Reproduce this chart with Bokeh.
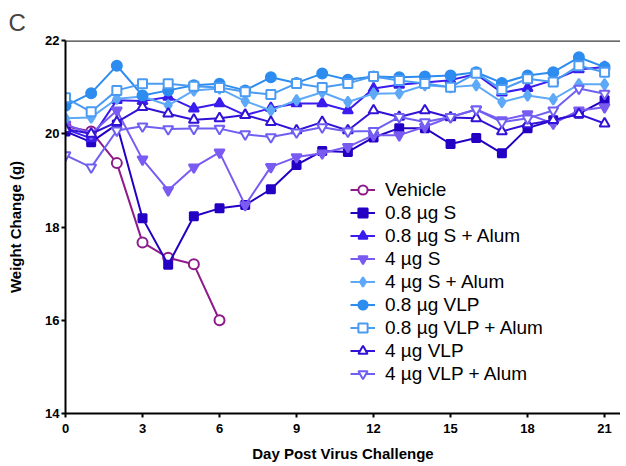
from bokeh.plotting import figure
from bokeh.models import Range1d, Span, FixedTicker, Legend
from bokeh.embed import file_html
from bokeh.resources import INLINE

days = list(range(22))
tick_x = [0, 3, 6, 9, 12, 15, 18, 21]
tick_y = [14, 16, 18, 20, 22]

vehicle = [20.16, 20.05, 19.37, 17.67, 17.34, 17.20, 16.00]
s08 = [20.05, 19.82, 20.20, 18.19, 17.19, 18.23, 18.40, 18.47, 18.81, 19.33, 19.63,
       19.61, 19.92, 20.12, 20.12, 19.78, 19.91, 19.58, 20.12, 20.29, 20.43, 20.72]
s08_alum = [20.10, 19.90, 20.72, 20.70, 20.79, 20.54, 20.65, 20.40, 20.55, 20.65, 20.65,
            20.50, 20.97, 21.05, 21.10, 21.15, 21.28, 20.88, 20.98, 21.15, 21.38, 21.43]
s4 = [20.20, 20.00, 20.50, 19.45, 18.79, 19.28, 19.60, 18.47, 19.29, 19.50, 19.58,
      19.72, 19.97, 19.97, 20.15, 20.36, 20.52, 20.29, 20.42, 20.22, 20.50, 20.57]
s4_alum = [20.33, 20.35, 20.75, 20.80, 20.61, 20.93, 20.97, 20.70, 20.50, 20.72, 20.89,
           20.68, 20.86, 20.87, 21.04, 21.00, 21.04, 20.68, 20.82, 20.74, 21.06, 21.06]
vlp08 = [20.60, 20.87, 21.46, 20.82, 20.93, 21.04, 21.07, 20.93, 21.21, 21.09, 21.29,
         21.16, 21.23, 21.21, 21.23, 21.25, 21.32, 21.09, 21.25, 21.32, 21.64, 21.43]
vlp08_alum = [20.77, 20.47, 20.93, 21.07, 21.07, 21.02, 20.99, 20.90, 20.84, 21.08, 20.99,
              21.08, 21.23, 21.14, 21.08, 21.00, 21.30, 20.95, 21.18, 21.11, 21.46, 21.32]
vlp4 = [20.10, 20.00, 20.25, 20.57, 20.43, 20.30, 20.33, 20.40, 20.25, 20.07, 20.25,
        20.07, 20.50, 20.36, 20.50, 20.35, 20.33, 20.05, 20.20, 20.29, 20.42, 20.22]
vlp4_alum = [19.54, 19.28, 20.07, 20.16, 20.10, 20.11, 20.11, 19.99, 19.93, 20.03, 20.14,
             20.05, 20.06, 20.36, 20.25, 20.36, 20.52, 20.25, 20.33, 20.50, 20.97, 20.86]

labels = ["Vehicle", "0.8 \u00b5g S", "0.8 \u00b5g S + Alum", "4 \u00b5g S", "4 \u00b5g S + Alum",
          "0.8 \u00b5g VLP", "0.8 \u00b5g VLP + Alum", "4 \u00b5g VLP", "4 \u00b5g VLP + Alum"]
series = [vehicle, s08, s08_alum, s4, s4_alum, vlp08, vlp08_alum, vlp4, vlp4_alum]
colors = ["#8E1B8A", "#2400C4", "#3A1CEE", "#7A5BF2", "#5EA9F7",
          "#2D8CF0", "#4B9BF2", "#3212D6", "#7060F2"]
markers = ["circle", "square", "triangle", "inverted_triangle", "diamond",
           "circle", "square", "triangle", "inverted_triangle"]
filled = [False, True, True, True, True, True, False, False, False]
sizes = [10, 8, 10, 10, 11, 10, 9, 10, 10]

p = figure(width=620, height=466, output_backend="svg", toolbar_location=None,
           x_range=Range1d(0, 21.62), y_range=Range1d(14, 22),
           min_border_left=65, min_border_top=40, min_border_right=0, min_border_bottom=53)
p.outline_line_color = None
p.xgrid.visible = False
p.ygrid.visible = False
p.background_fill_color = "white"

p.title.text = "C"
p.title.text_font = "Liberation Sans"
p.title.text_font_size = "24px"
p.title.text_font_style = "normal"
p.title.align = "left"
p.title.offset = -57
p.title.standoff = 9

p.add_layout(Span(location=22, dimension="width", line_color="#3a3a3a", line_width=2.5))

for ax, ticks in ((p.xaxis[0], tick_x), (p.yaxis[0], tick_y)):
    ax.ticker = FixedTicker(ticks=ticks)
    ax.minor_tick_line_color = None
    ax.major_tick_in = 0
    ax.major_tick_out = 4
    ax.major_tick_line_width = 2
    ax.axis_line_width = 2
    ax.axis_line_color = "black"
    ax.major_tick_line_color = "black"
    ax.major_label_text_font = "Liberation Sans"
    ax.major_label_text_font_style = "bold"
    ax.major_label_text_font_size = "13px"
    ax.major_label_text_color = "black"
    ax.axis_label_text_font = "Liberation Sans"
    ax.axis_label_text_font_style = "bold"
    ax.axis_label_text_color = "black"
    ax.axis_label_text_font_size = "15px"

p.xaxis.axis_label = "Day Post Virus Challenge"
p.xaxis.axis_label_standoff = 9
p.xaxis.major_label_standoff = 6
p.yaxis.axis_label = "Weight Change (g)"
p.yaxis.axis_label_standoff = 18
p.yaxis.major_label_standoff = 2

items = []
for lab, ys, col, mk, fl, sz in zip(labels, series, colors, markers, filled, sizes):
    xs = days[:len(ys)]
    r1 = p.line(xs, ys, line_color=col, line_width=2)
    r2 = p.scatter(xs, ys, marker=mk, size=sz, line_color=col, line_width=2,
                   fill_color=col if fl else "white", fill_alpha=1.0)
    items.append((lab, [r1, r2]))

legend = Legend(items=items, location=(285, 28))
legend.border_line_color = None
legend.background_fill_alpha = 0
legend.padding = 0
legend.margin = 0
legend.spacing = 0
legend.label_height = 23
legend.glyph_height = 23
legend.glyph_width = 25
legend.label_standoff = 10
legend.label_text_font = "Liberation Sans"
legend.label_text_font_size = "19px"
legend.label_text_color = "black"
p.add_layout(legend)

open("out.html", "w").write(file_html(p, INLINE))
